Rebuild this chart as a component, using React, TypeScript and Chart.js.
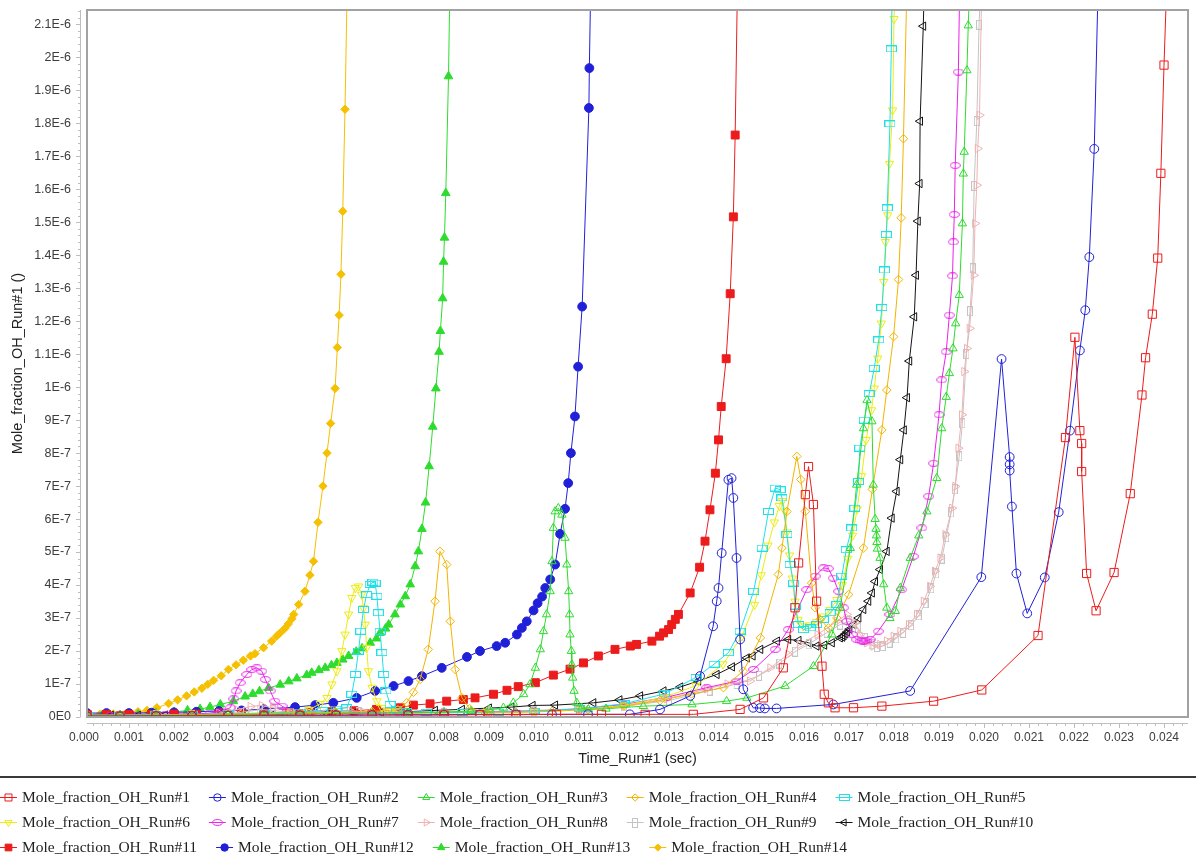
import { useEffect, useRef } from 'react';
import { Chart, registerables } from 'chart.js';
import { drawPoint } from 'chart.js/helpers';

Chart.register(...registerables);

// Time in ms, OH mole fraction in units of 1E-7.
const run1Time = [0.07, 0.8, 1.6, 2.4, 3.2, 4.0, 4.8, 5.6, 6.4, 7.2, 8.0, 8.8, 9.6, 10.5, 11.5, 12.47, 13.54, 14.58, 15.10, 15.54, 15.80, 15.88, 16.03, 16.10, 16.21, 16.28, 16.40, 16.45, 16.54, 16.69, 17.10, 17.73, 18.88, 19.95, 21.20, 21.81, 22.02, 22.13, 22.17, 22.17, 22.28, 22.49, 22.89, 23.25, 23.51, 23.59, 23.74, 23.86, 23.93, 24.00, 24.08];
const run1Value = [0.03, 0.03, 0.03, 0.04, 0.04, 0.05, 0.05, 0.05, 0.06, 0.06, 0.06, 0.07, 0.07, 0.08, 0.08, 0.08, 0.08, 0.23, 0.58, 1.49, 3.31, 4.67, 6.74, 7.59, 6.44, 3.51, 1.54, 0.69, 0.43, 0.28, 0.28, 0.33, 0.48, 0.82, 2.47, 8.47, 11.51, 8.68, 8.29, 7.44, 4.35, 3.22, 4.38, 6.77, 9.76, 10.89, 12.21, 13.91, 16.48, 19.76, 23];

const run2Time = [0.07, 0.8, 1.6, 2.4, 3.2, 4.0, 4.8, 5.6, 6.4, 7.2, 8.0, 8.8, 9.6, 10.4, 11.2, 12.13, 12.80, 13.47, 13.69, 13.98, 14.06, 14.10, 14.17, 14.32, 14.39, 14.43, 14.50, 14.58, 14.65, 14.87, 15.02, 15.13, 15.39, 16.65, 18.36, 19.94, 20.39, 20.57, 20.57, 20.57, 20.62, 20.72, 20.96, 21.35, 21.66, 21.91, 22.13, 22.25, 22.34, 22.45, 22.55];
const run2Value = [0.02, 0.02, 0.03, 0.03, 0.04, 0.05, 0.05, 0.06, 0.06, 0.07, 0.07, 0.08, 0.08, 0.08, 0.08, 0.08, 0.23, 0.64, 1.24, 2.75, 3.51, 3.91, 4.97, 7.19, 7.24, 6.64, 4.82, 2.35, 0.84, 0.28, 0.27, 0.26, 0.26, 0.38, 0.79, 4.24, 10.85, 7.88, 7.66, 7.47, 6.38, 4.35, 3.14, 4.23, 6.21, 8.68, 11.11, 12.33, 13.94, 17.22, 23];

const run3Time = [0.07, 0.8, 1.6, 2.4, 3.2, 4.0, 4.8, 5.6, 6.4, 7.2, 8.0, 8.6, 9.0, 9.32, 9.54, 9.77, 9.91, 10.03, 10.14, 10.21, 10.28, 10.36, 10.40, 10.43, 10.47, 10.54, 10.62, 10.69, 10.73, 10.77, 10.79, 10.80, 10.83, 10.84, 10.86, 10.89, 10.95, 11.06, 11.21, 11.6, 12.43, 13.51, 14.28, 14.73, 15.58, 16.21, 16.62, 16.80, 17.03, 17.17, 17.32, 17.40, 17.51, 17.54, 17.58, 17.60, 17.61, 17.62, 17.63, 17.69, 17.77, 17.84, 17.91, 18.03, 18.14, 18.36, 18.55, 18.73, 18.95, 19.06, 19.16, 19.23, 19.31, 19.37, 19.45, 19.52, 19.54, 19.56, 19.62, 19.65, 19.70];
const run3Value = [0.04, 0.04, 0.05, 0.06, 0.07, 0.08, 0.09, 0.10, 0.11, 0.13, 0.15, 0.18, 0.22, 0.28, 0.43, 0.69, 0.99, 1.49, 2.05, 2.60, 3.11, 3.81, 4.72, 5.73, 6.23, 6.33, 6.13, 5.43, 4.62, 3.81, 3.11, 2.50, 2.00, 1.59, 1.19, 0.79, 0.43, 0.28, 0.23, 0.25, 0.33, 0.38, 0.48, 0.58, 0.94, 1.54, 2.50, 3.31, 5.12, 7.04, 8.75, 9.60, 8.96, 7.04, 6.00, 5.70, 5.50, 5.30, 5.10, 4.82, 4.02, 3.31, 3.00, 3.21, 3.91, 4.82, 5.50, 6.23, 7.24, 8.75, 9.70, 10.42, 11.17, 11.93, 12.79, 14.96, 16.47, 17.13, 19.60, 20.96, 23];

const run4Time = [0.07, 0.8, 1.6, 2.4, 3.2, 4.0, 4.8, 5.6, 6.4, 6.97, 7.17, 7.32, 7.47, 7.65, 7.80, 7.91, 8.06, 8.14, 8.25, 8.40, 8.57, 8.9, 9.6, 10.4, 11.2, 12.0, 12.8, 13.5, 14.21, 14.65, 15.03, 15.43, 15.51, 15.62, 15.84, 15.93, 16.03, 16.17, 16.25, 16.36, 16.54, 16.73, 16.99, 17.32, 17.52, 17.73, 17.84, 17.99, 18.10, 18.16, 18.21, 18.30];
const run4Value = [0.05, 0.05, 0.06, 0.07, 0.09, 0.10, 0.12, 0.14, 0.17, 0.22, 0.43, 0.75, 1.14, 2.05, 3.51, 5.02, 4.62, 2.90, 1.44, 0.58, 0.25, 0.15, 0.14, 0.17, 0.23, 0.33, 0.50, 0.70, 0.89, 1.39, 2.40, 4.32, 5.12, 6.23, 7.90, 7.20, 6.23, 4.06, 3.31, 2.96, 2.70, 3.00, 3.71, 5.12, 6.90, 8.70, 9.91, 11.53, 13.26, 15.13, 17.53, 23];

const run5Time = [0.07, 0.8, 1.6, 2.4, 3.2, 4.0, 4.8, 5.3, 5.6, 5.84, 5.95, 6.03, 6.10, 6.15, 6.21, 6.28, 6.36, 6.42, 6.47, 6.51, 6.54, 6.58, 6.62, 6.66, 6.71, 6.80, 6.95, 7.17, 7.6, 8.4, 9.2, 10.0, 11.0, 12.0, 12.9, 13.6, 14.0, 14.32, 14.58, 14.88, 15.07, 15.21, 15.36, 15.47, 15.51, 15.62, 15.69, 15.77, 15.80, 15.88, 15.99, 16.14, 16.28, 16.43, 16.58, 16.73, 16.84, 16.94, 17.06, 17.13, 17.21, 17.24, 17.34, 17.45, 17.56, 17.66, 17.73, 17.79, 17.83, 17.85, 17.91, 17.94, 17.97];
const run5Value = [0.06, 0.06, 0.07, 0.08, 0.10, 0.12, 0.15, 0.20, 0.24, 0.28, 0.69, 1.29, 2.00, 2.60, 3.26, 3.71, 4.02, 4.09, 4.06, 3.66, 3.16, 2.60, 1.95, 1.29, 0.79, 0.38, 0.23, 0.16, 0.14, 0.14, 0.15, 0.18, 0.25, 0.40, 0.70, 1.20, 1.60, 1.95, 2.60, 3.81, 5.12, 6.23, 6.94, 6.89, 6.64, 5.53, 4.62, 4.06, 3.36, 2.80, 2.65, 2.70, 2.80, 2.96, 3.16, 3.41, 4.27, 5.07, 5.73, 6.33, 7.14, 8.15, 9.00, 9.80, 10.57, 11.43, 12.41, 13.55, 14.62, 15.43, 17.98, 20.25, 23];

const run6Time = [0.07, 0.8, 1.6, 2.4, 3.2, 4.0, 4.6, 5.0, 5.25, 5.40, 5.51, 5.62, 5.73, 5.80, 5.88, 5.95, 6.03, 6.10, 6.17, 6.21, 6.25, 6.28, 6.32, 6.40, 6.51, 6.62, 6.8, 7.2, 8.0, 9.0, 10.0, 11.0, 12.0, 12.9, 13.6, 14.2, 14.62, 14.9, 15.05, 15.2, 15.34, 15.45, 15.52, 15.58, 15.62, 15.68, 15.74, 15.8, 15.87, 15.98, 16.12, 16.28, 16.43, 16.58, 16.73, 16.85, 16.97, 17.08, 17.18, 17.28, 17.38, 17.5, 17.56, 17.64, 17.72, 17.77, 17.81, 17.86, 17.9, 17.97, 18.0, 18.03];
const run6Value = [0.04, 0.04, 0.05, 0.06, 0.08, 0.10, 0.14, 0.22, 0.40, 0.58, 0.99, 1.39, 2.00, 2.50, 3.11, 3.61, 3.91, 3.96, 3.71, 3.30, 2.80, 2.10, 1.39, 0.89, 0.48, 0.28, 0.18, 0.13, 0.12, 0.13, 0.16, 0.22, 0.35, 0.60, 0.95, 1.60, 2.45, 3.40, 4.30, 5.20, 5.90, 6.40, 6.55, 6.23, 5.60, 4.90, 4.20, 3.50, 2.95, 2.75, 2.78, 2.88, 3.05, 3.25, 3.55, 4.00, 4.80, 5.50, 6.30, 7.30, 8.40, 9.30, 9.96, 10.87, 11.93, 13.19, 14.40, 15.21, 16.77, 18.39, 21.16, 23];

const run7Time = [0.07, 0.6, 1.2, 1.8, 2.4, 2.8, 3.05, 3.25, 3.33, 3.38, 3.47, 3.62, 3.73, 3.84, 3.95, 4.03, 4.14, 4.24, 4.40, 4.58, 4.8, 5.2, 6.0, 7.0, 8.0, 9.0, 10.0, 11.0, 12.0, 12.95, 13.84, 14.51, 14.88, 15.36, 15.65, 16.06, 16.25, 16.43, 16.54, 16.65, 16.77, 16.88, 16.95, 17.07, 17.17, 17.26, 17.30, 17.34, 17.38, 17.47, 17.65, 17.91, 18.17, 18.43, 18.62, 18.77, 18.88, 19.00, 19.06, 19.16, 19.23, 19.30, 19.32, 19.34, 19.36, 19.43, 19.47];
const run7Value = [0.05, 0.05, 0.06, 0.07, 0.09, 0.12, 0.18, 0.28, 0.55, 0.79, 1.04, 1.29, 1.44, 1.49, 1.39, 1.14, 0.79, 0.48, 0.33, 0.18, 0.14, 0.12, 0.12, 0.12, 0.13, 0.15, 0.18, 0.24, 0.38, 0.60, 0.89, 1.09, 1.44, 2.05, 2.65, 3.86, 4.27, 4.52, 4.50, 4.21, 3.81, 3.31, 2.90, 2.50, 2.35, 2.31, 2.30, 2.30, 2.31, 2.35, 2.60, 3.11, 3.86, 4.87, 5.73, 6.69, 7.69, 9.16, 10.22, 11.07, 12.18, 13.37, 14.40, 15.23, 16.72, 19.55, 23];

const run8Time = [0.07, 0.8, 1.6, 2.4, 3.0, 3.4, 3.7, 3.95, 4.2, 4.5, 5.0, 5.6, 5.9, 6.2, 7.0, 8.0, 9.0, 10.0, 11.0, 12.0, 12.95, 13.84, 14.3, 14.80, 15.25, 15.65, 15.91, 16.3, 16.73, 16.95, 17.14, 17.25, 17.40, 17.54, 17.69, 17.84, 17.99, 18.14, 18.33, 18.51, 18.66, 18.80, 18.91, 19.03, 19.14, 19.29, 19.36, 19.43, 19.51, 19.56, 19.62, 19.68, 19.77, 19.80, 19.84, 19.86, 19.90, 19.96];
const run8Value = [0.05, 0.05, 0.06, 0.08, 0.12, 0.22, 0.32, 0.35, 0.28, 0.18, 0.14, 0.15, 0.20, 0.16, 0.14, 0.15, 0.17, 0.20, 0.25, 0.35, 0.55, 0.85, 1.00, 1.09, 1.49, 1.90, 2.20, 2.50, 2.90, 3.11, 2.85, 2.50, 2.25, 2.15, 2.20, 2.30, 2.45, 2.60, 2.80, 3.11, 3.51, 3.96, 4.42, 4.82, 5.53, 6.33, 6.99, 8.15, 9.16, 10.47, 11.17, 11.78, 13.39, 14.96, 16.12, 17.23, 18.24, 23];

const run9Time = [0.07, 0.8, 1.6, 2.4, 3.2, 3.6, 3.9, 4.2, 4.6, 5.2, 5.8, 6.1, 7.0, 8.0, 9.0, 10.0, 11.0, 12.0, 13.0, 13.9, 14.5, 15.0, 15.45, 15.8, 16.1, 16.5, 16.8, 17.0, 17.2, 17.35, 17.5, 17.62, 17.75, 17.9, 18.05, 18.2, 18.38, 18.55, 18.7, 18.83, 18.94, 19.06, 19.16, 19.27, 19.35, 19.45, 19.52, 19.61, 19.69, 19.75, 19.78, 19.84, 19.89, 19.95];
const run9Value = [0.04, 0.04, 0.05, 0.06, 0.09, 0.16, 0.22, 0.20, 0.13, 0.12, 0.16, 0.14, 0.12, 0.13, 0.15, 0.18, 0.23, 0.32, 0.50, 0.80, 1.00, 1.25, 1.62, 1.98, 2.20, 2.55, 2.80, 2.90, 2.70, 2.40, 2.20, 2.12, 2.15, 2.25, 2.38, 2.55, 2.78, 3.08, 3.45, 3.90, 4.35, 4.80, 5.45, 6.20, 6.90, 7.90, 8.90, 11.00, 12.30, 13.60, 16.10, 18.06, 20.98, 23];

const run10Time = [0.07, 0.6, 1.2, 1.8, 2.4, 3.0, 3.6, 4.2, 4.8, 5.4, 6.0, 6.6, 7.2, 7.8, 8.4, 9.0, 9.5, 9.97, 10.47, 11.32, 11.9, 12.36, 12.88, 13.25, 13.65, 14.06, 14.4, 14.73, 14.86, 15.03, 15.40, 15.65, 15.88, 16.10, 16.28, 16.45, 16.62, 16.80, 16.85, 16.88, 16.92, 16.96, 17.01, 17.10, 17.21, 17.32, 17.43, 17.51, 17.58, 17.69, 17.84, 17.95, 18.06, 18.14, 18.22, 18.29, 18.34, 18.45, 18.49, 18.53, 18.57, 18.58, 18.65, 18.69];
const run10Value = [0.05, 0.05, 0.05, 0.06, 0.06, 0.07, 0.08, 0.08, 0.10, 0.11, 0.12, 0.14, 0.16, 0.20, 0.23, 0.27, 0.30, 0.35, 0.36, 0.43, 0.52, 0.64, 0.79, 0.91, 1.09, 1.29, 1.52, 1.79, 1.85, 2.05, 2.30, 2.35, 2.32, 2.25, 2.15, 2.18, 2.25, 2.40, 2.42, 2.46, 2.52, 2.58, 2.66, 2.80, 3.00, 3.26, 3.51, 3.76, 4.11, 4.47, 5.02, 6.03, 6.84, 7.80, 8.70, 9.68, 10.79, 12.13, 13.39, 15.03, 16.17, 18.06, 20.94, 23];

const run11Time = [0.07, 0.5, 1.0, 1.5, 2.0, 2.5, 3.0, 3.5, 4.0, 4.5, 5.0, 5.5, 6.0, 6.5, 7.03, 7.32, 7.69, 8.06, 8.43, 8.69, 9.10, 9.40, 9.65, 10.03, 10.43, 10.8, 11.10, 11.43, 11.80, 12.14, 12.28, 12.62, 12.79, 12.88, 12.99, 13.06, 13.14, 13.21, 13.47, 13.68, 13.80, 13.91, 14.03, 14.10, 14.16, 14.27, 14.36, 14.43, 14.47, 14.53];
const run11Value = [0.08, 0.08, 0.08, 0.08, 0.09, 0.09, 0.10, 0.10, 0.11, 0.12, 0.14, 0.16, 0.19, 0.23, 0.28, 0.36, 0.40, 0.48, 0.53, 0.58, 0.69, 0.81, 0.92, 1.04, 1.27, 1.45, 1.64, 1.85, 2.05, 2.15, 2.20, 2.30, 2.45, 2.55, 2.65, 2.80, 2.96, 3.11, 3.76, 4.54, 5.33, 6.28, 7.39, 8.40, 9.41, 10.86, 12.83, 15.16, 17.64, 23];

const run12Time = [0.07, 0.5, 1.0, 1.5, 2.0, 2.5, 3.0, 3.5, 4.0, 4.69, 5.14, 5.54, 6.06, 6.47, 6.88, 7.21, 7.51, 7.95, 8.51, 8.80, 9.17, 9.36, 9.62, 9.73, 9.84, 9.99, 10.08, 10.18, 10.25, 10.36, 10.47, 10.58, 10.69, 10.76, 10.82, 10.91, 10.98, 11.07, 11.22, 11.23, 11.27];
const run12Value = [0.12, 0.12, 0.12, 0.13, 0.14, 0.16, 0.18, 0.20, 0.24, 0.30, 0.36, 0.43, 0.58, 0.79, 0.94, 1.09, 1.24, 1.49, 1.82, 2.00, 2.15, 2.25, 2.50, 2.70, 2.90, 3.23, 3.45, 3.65, 3.91, 4.17, 4.62, 5.55, 6.31, 7.09, 8.00, 9.11, 10.62, 12.44, 18.46, 19.67, 23];

const run13Time = [0.07, 0.4, 0.8, 1.2, 1.6, 2.0, 2.3, 2.58, 2.8, 3.03, 3.32, 3.58, 3.75, 3.90, 4.10, 4.36, 4.55, 4.73, 4.95, 5.06, 5.22, 5.36, 5.50, 5.62, 5.75, 5.88, 6.05, 6.18, 6.36, 6.50, 6.58, 6.70, 6.77, 6.91, 7.03, 7.14, 7.25, 7.36, 7.43, 7.51, 7.59, 7.67, 7.75, 7.82, 7.89, 7.92, 7.97, 7.99, 8.01, 8.04, 8.10, 8.14];
const run13Value = [0.05, 0.05, 0.06, 0.08, 0.11, 0.15, 0.20, 0.24, 0.30, 0.38, 0.48, 0.62, 0.70, 0.78, 0.88, 0.98, 1.08, 1.17, 1.27, 1.34, 1.42, 1.49, 1.57, 1.64, 1.74, 1.85, 1.98, 2.08, 2.25, 2.38, 2.55, 2.68, 2.80, 3.11, 3.41, 3.66, 4.02, 4.57, 5.02, 5.70, 6.50, 7.60, 8.80, 9.96, 11.07, 11.70, 12.69, 13.80, 14.53, 15.88, 19.42, 23];

const run14Time = [0.07, 0.35, 0.65, 0.95, 1.2, 1.40, 1.62, 1.88, 2.08, 2.28, 2.45, 2.62, 2.75, 2.88, 3.05, 3.21, 3.38, 3.54, 3.70, 3.80, 3.99, 4.17, 4.28, 4.36, 4.46, 4.54, 4.62, 4.66, 4.77, 4.91, 5.02, 5.10, 5.20, 5.31, 5.40, 5.48, 5.58, 5.63, 5.67, 5.71, 5.75, 5.80, 5.86];
const run14Value = [0.08, 0.08, 0.09, 0.12, 0.16, 0.20, 0.28, 0.41, 0.52, 0.64, 0.76, 0.87, 0.99, 1.11, 1.25, 1.44, 1.58, 1.72, 1.85, 1.92, 2.10, 2.30, 2.45, 2.55, 2.68, 2.82, 2.98, 3.11, 3.41, 3.81, 4.30, 4.72, 5.90, 7.00, 8.00, 8.90, 9.96, 11.20, 12.18, 13.42, 15.33, 18.42, 23];

const seriesNames = [
  'Mole_fraction_OH_Run#1', 'Mole_fraction_OH_Run#2', 'Mole_fraction_OH_Run#3', 'Mole_fraction_OH_Run#4',
  'Mole_fraction_OH_Run#5', 'Mole_fraction_OH_Run#6', 'Mole_fraction_OH_Run#7', 'Mole_fraction_OH_Run#8',
  'Mole_fraction_OH_Run#9', 'Mole_fraction_OH_Run#10', 'Mole_fraction_OH_Run#11', 'Mole_fraction_OH_Run#12',
  'Mole_fraction_OH_Run#13', 'Mole_fraction_OH_Run#14',
];

const xTickValues = [0, 1, 2, 3, 4, 5, 6, 7, 8, 9, 10, 11, 12, 13, 14, 15, 16, 17, 18, 19, 20, 21, 22, 23, 24];
const xTickLabels = ['0.000', '0.001', '0.002', '0.003', '0.004', '0.005', '0.006', '0.007', '0.008', '0.009', '0.010', '0.011', '0.012', '0.013', '0.014', '0.015', '0.016', '0.017', '0.018', '0.019', '0.020', '0.021', '0.022', '0.023', '0.024'];
const yTickValues = [0, 1, 2, 3, 4, 5, 6, 7, 8, 9, 10, 11, 12, 13, 14, 15, 16, 17, 18, 19, 20, 21];
const yTickLabels = ['0E0', '1E-7', '2E-7', '3E-7', '4E-7', '5E-7', '6E-7', '7E-7', '8E-7', '9E-7', '1E-6', '1.1E-6', '1.2E-6', '1.3E-6', '1.4E-6', '1.5E-6', '1.6E-6', '1.7E-6', '1.8E-6', '1.9E-6', '2E-6', '2.1E-6'];

const runs = [
  { time: run1Time, value: run1Value }, { time: run2Time, value: run2Value },
  { time: run3Time, value: run3Value }, { time: run4Time, value: run4Value },
  { time: run5Time, value: run5Value }, { time: run6Time, value: run6Value },
  { time: run7Time, value: run7Value }, { time: run8Time, value: run8Value },
  { time: run9Time, value: run9Value }, { time: run10Time, value: run10Value },
  { time: run11Time, value: run11Value }, { time: run12Time, value: run12Value },
  { time: run13Time, value: run13Value }, { time: run14Time, value: run14Value },
];

type Marker = 'rect' | 'circle' | 'triangle' | 'rectRot' | 'wideRect' | 'ellipse' | 'tallRect';
interface SeriesStyle { color: string; marker: Marker; filled: boolean; radius: number; rotation: number }

const seriesStyles: SeriesStyle[] = [
  { color: '#ec1c1c', marker: 'rect', filled: false, radius: 5.8, rotation: 0 },
  { color: '#2020d8', marker: 'circle', filled: false, radius: 4.4, rotation: 0 },
  { color: '#2edc2e', marker: 'triangle', filled: false, radius: 4.8, rotation: 0 },
  { color: '#f2b400', marker: 'rectRot', filled: false, radius: 4.3, rotation: 0 },
  { color: '#1ee0e6', marker: 'wideRect', filled: false, radius: 4, rotation: 0 },
  { color: '#ecec10', marker: 'triangle', filled: false, radius: 4.8, rotation: 180 },
  { color: '#ea22ea', marker: 'ellipse', filled: false, radius: 4, rotation: 0 },
  { color: '#f0b2b2', marker: 'triangle', filled: false, radius: 4.8, rotation: 90 },
  { color: '#c4c4c4', marker: 'tallRect', filled: false, radius: 4, rotation: 0 },
  { color: '#141414', marker: 'triangle', filled: false, radius: 4.8, rotation: -90 },
  { color: '#ec1c1c', marker: 'rect', filled: true, radius: 5.6, rotation: 0 },
  { color: '#2020d8', marker: 'circle', filled: true, radius: 4.4, rotation: 0 },
  { color: '#2edc2e', marker: 'triangle', filled: true, radius: 5, rotation: 0 },
  { color: '#f5c000', marker: 'rectRot', filled: true, radius: 4.2, rotation: 0 },
];

const SANS = '"Liberation Sans", Arial, sans-serif';
const SERIF = '"Liberation Serif", "Times New Roman", serif';

// Markers that Chart.js has no built-in shape for are drawn onto small canvases.
function makeMarkerImage(kind: Marker, color: string): HTMLCanvasElement | null {
  const c = document.createElement('canvas');
  if (kind === 'wideRect') { c.width = 11; c.height = 7; }
  else if (kind === 'ellipse') { c.width = 11; c.height = 7; }
  else if (kind === 'tallRect') { c.width = 6; c.height = 10; }
  else return null;
  const g = c.getContext('2d')!;
  g.strokeStyle = color;
  g.lineWidth = 1;
  if (kind === 'wideRect') g.strokeRect(0.5, 0.5, 10, 6);
  if (kind === 'tallRect') g.strokeRect(0.5, 0.5, 5, 9);
  if (kind === 'ellipse') {
    g.beginPath();
    g.ellipse(5.5, 3.5, 4.8, 2.9, 0, 0, Math.PI * 2);
    g.stroke();
  }
  return c;
}

export default function App() {
  const ref = useRef<HTMLCanvasElement>(null);

  useEffect(() => {
    const canvas = ref.current;
    if (!canvas) return;

    const images = seriesStyles.map((s) => makeMarkerImage(s.marker, s.color));

    const datasets = runs.map((run, i) => {
      const st = seriesStyles[i];
      const fill = st.filled ? st.color : 'rgba(0,0,0,0)';
      return {
        label: seriesNames[i],
        data: run.time.map((t, j) => ({ x: t, y: run.value[j] })),
        borderColor: st.color,
        backgroundColor: fill,
        borderWidth: 1,
        pointStyle: (images[i] ?? st.marker) as any,
        pointRadius: st.radius,
        pointRotation: st.rotation,
        pointBorderColor: st.color,
        pointBackgroundColor: fill,
        pointBorderWidth: 1,
        tension: 0,
        fill: false,
      };
    });

    const frameAndAxes = {
      id: 'frameAndAxes',
      afterDraw(chart: any) {
        const { ctx, chartArea: ca } = chart;
        const xs = chart.scales.x;
        const ys = chart.scales.y;
        ctx.save();
        ctx.strokeStyle = '#bdbdbd';
        ctx.lineWidth = 1;
        ctx.beginPath();
        const axX = 80.5;
        ctx.moveTo(axX, ca.top);
        ctx.lineTo(axX, ca.bottom);
        for (let k = 0; k * 0.2 <= ys.max + 1e-9; k++) {
          const py = Math.round(ys.getPixelForValue(k * 0.2)) + 0.5;
          const len = k % 5 === 0 ? 4.5 : 2.5;
          ctx.moveTo(axX - len, py);
          ctx.lineTo(axX, py);
        }
        const axY = ca.bottom + 6.5;
        ctx.moveTo(ca.left, axY);
        ctx.lineTo(ca.right, axY);
        for (let k = 0; k * 0.2 <= xs.max + 1e-9; k++) {
          const px = Math.round(xs.getPixelForValue(k * 0.2)) + 0.5;
          if (px < ca.left) continue;
          const len = k % 5 === 0 ? 4.5 : 2.5;
          ctx.moveTo(px, axY);
          ctx.lineTo(px, axY + len);
        }
        ctx.stroke();
        ctx.strokeStyle = '#a2a2a2';
        ctx.lineWidth = 2;
        ctx.strokeRect(ca.left, ca.top, ca.right - ca.left, ca.bottom - ca.top);
        ctx.restore();
      },
    };

    const bottomLegend = {
      id: 'bottomLegend',
      afterDraw(chart: any) {
        const ctx: CanvasRenderingContext2D = chart.ctx;
        ctx.save();
        ctx.strokeStyle = '#3a3a3a';
        ctx.lineWidth = 2;
        ctx.beginPath();
        ctx.moveTo(0, 777);
        ctx.lineTo(chart.width, 777);
        ctx.stroke();
        ctx.font = `15.5px ${SERIF}`;
        ctx.textBaseline = 'middle';
        let x = 0;
        let row = 0;
        seriesNames.forEach((name, i) => {
          const st = seriesStyles[i];
          const w = ctx.measureText(name).width;
          if (x > 0 && x + 22 + w > chart.width) { x = 0; row++; }
          const cy = 797 + row * 25;
          ctx.strokeStyle = st.color;
          ctx.lineWidth = 1;
          ctx.beginPath();
          ctx.moveTo(x, cy + 0.5);
          ctx.lineTo(x + 17, cy + 0.5);
          ctx.stroke();
          const img = images[i];
          if (img) {
            ctx.drawImage(img, Math.round(x + 8.5 - img.width / 2), Math.round(cy + 0.5 - img.height / 2));
          } else {
            ctx.fillStyle = st.filled ? st.color : 'rgba(0,0,0,0)';
            ctx.strokeStyle = st.color;
            ctx.lineWidth = 1;
            drawPoint(ctx, { pointStyle: st.marker, rotation: st.rotation, radius: st.radius * 0.85, borderWidth: 1 } as any, x + 8.5, cy + 0.5);
          }
          ctx.fillStyle = '#1e1e1e';
          ctx.fillText(name, x + 22, cy + 1);
          x += 22 + w + 19;
        });
        ctx.restore();
      },
    };

    const chart = new Chart(canvas, {
      type: 'line',
      data: { datasets: datasets as any },
      plugins: [frameAndAxes, bottomLegend],
      options: {
        animation: false,
        responsive: false,
        events: [],
        layout: { padding: { top: 10, right: 8, bottom: 86, left: 0 } },
        plugins: { legend: { display: false }, tooltip: { enabled: false } },
        scales: {
          x: {
            type: 'linear',
            min: 0.0667,
            max: 24.533,
            afterBuildTicks: (s: any) => { s.ticks = xTickValues.map((v) => ({ value: v })); },
            afterFit: (s: any) => { s.height = 53; },
            ticks: {
              autoSkip: false,
              maxRotation: 0,
              padding: 13,
              color: '#3c3c3c',
              font: { family: SANS, size: 12 },
              callback: (_v: any, i: number) => xTickLabels[i],
            },
            grid: { display: true, drawOnChartArea: false, drawTicks: false, color: 'rgba(0,0,0,0)' },
            border: { display: false },
            title: {
              display: true,
              text: 'Time_Run#1 (sec)',
              color: '#222',
              font: { family: SANS, size: 14.5 },
              padding: { top: 0, bottom: 2 },
            },
          },
          y: {
            type: 'linear',
            min: 0,
            max: 21.43,
            afterBuildTicks: (s: any) => { s.ticks = yTickValues.map((v) => ({ value: v })); },
            afterFit: (s: any) => {
              s.width = 87;
              s.paddingTop = 0;
              s.paddingBottom = 0;
            },
            ticks: {
              autoSkip: false,
              padding: 16,
              color: '#3c3c3c',
              font: { family: SANS, size: 12.5 },
              callback: (_v: any, i: number) => yTickLabels[i],
            },
            grid: { display: true, drawOnChartArea: false, drawTicks: false, color: 'rgba(0,0,0,0)' },
            border: { display: false },
            title: {
              display: true,
              text: 'Mole_fraction_OH_Run#1 ()',
              color: '#222',
              font: { family: SANS, size: 14.5 },
              padding: { top: 9, bottom: 0 },
            },
          },
        },
      } as any,
    });

    return () => chart.destroy();
  }, []);

  return (
    <canvas
      ref={ref}
      width={1196}
      height={856}
      style={{ position: 'fixed', left: 0, top: 0, width: 1196, height: 856, background: '#fff' }}
    />
  );
}
